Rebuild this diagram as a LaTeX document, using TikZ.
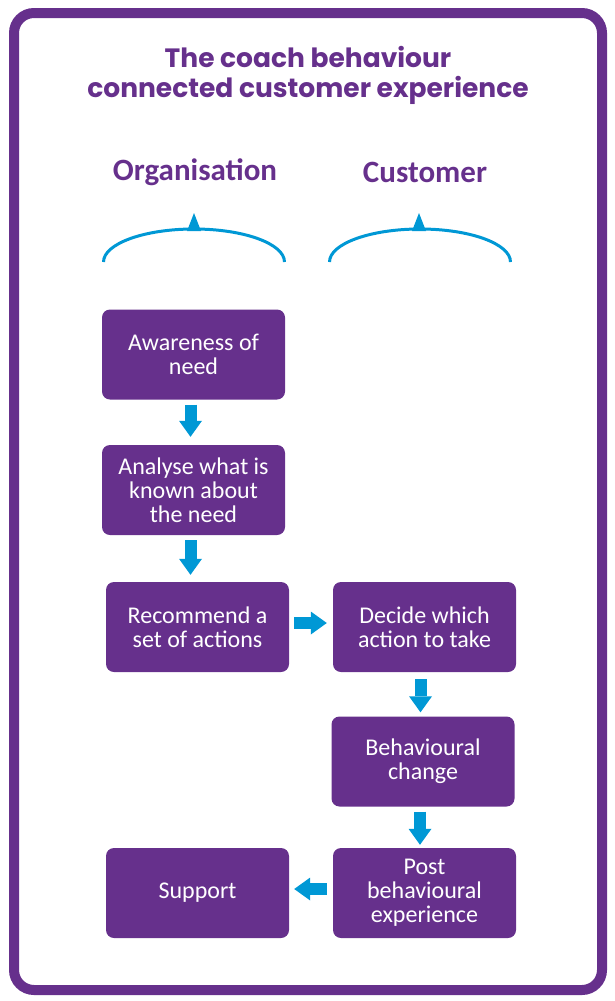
\documentclass[tikz,border=0pt]{standalone}
\usepackage{fontspec}
\setmainfont{Carlito}
\newfontfamily\titlefont{Poppins}
\usetikzlibrary{arrows.meta}
\definecolor{coachpurple}{HTML}{66308C}
\definecolor{coachblue}{HTML}{0098D5}
\tikzset{
  stepbox/.style={fill=coachpurple, rounded corners=8pt, minimum width=183pt,
    minimum height=90pt, inner sep=0pt, align=center,
    text=white, font=\fontsize{24}{24}\selectfont},
  flow/.style={draw=coachblue, line width=12pt,
    -{Triangle[width=23pt,length=16pt,line width=0pt]}},
  heading/.style={text=coachpurple, font=\bfseries\fontsize{31}{34}\selectfont},
  bracket/.style={draw=coachblue, line width=3pt}
}
\begin{document}
\begin{tikzpicture}[x=1pt,y=-1pt]
\useasboundingbox (0,0) rectangle (615,1001);
\draw[coachpurple, line width=10pt, rounded corners=20pt] (14,13) rectangle (602,990);

\node[text=coachpurple, font=\titlefont\bfseries\fontsize{26.5}{30}\selectfont, align=center]
  (title) at (308,75) {The coach behaviour\\connected customer experience};

\node[heading, anchor=base] (org) at (195,180) {Organisation};
\node[heading, anchor=base] (cust) at (425,182) {Customer};

\draw[bracket] (103.5,262) arc[start angle=180, end angle=360, x radius=90.5, y radius=33];
\fill[coachblue] (187,231) -- (194,213) -- (201,231) -- cycle;
\draw[bracket] (329.5,262) arc[start angle=180, end angle=360, x radius=90.5, y radius=33];
\fill[coachblue] (412,231) -- (419,213) -- (426,231) -- cycle;

\node[stepbox] (aware) at (193.5,354.5) {Awareness of\\need};
\node[stepbox] (analyse) at (193.5,490) {Analyse what is\\known about\\the need};
\node[stepbox] (recommend) at (197.5,627) {Recommend a\\set of actions};
\node[stepbox] (decide) at (424.5,627) {Decide which\\action to take};
\node[stepbox] (change) at (423,761.5) {Behavioural\\change};
\node[stepbox] (post) at (424.5,893) {Post\\behavioural\\experience};
\node[stepbox] (support) at (197.5,893) {Support};

\draw[flow, shorten <=5pt, shorten >=8pt] ([xshift=-3pt]aware.south) -- ([xshift=-3pt]analyse.north);
\draw[flow, shorten <=5pt, shorten >=7pt] ([xshift=-3pt]analyse.south) -- ([xshift=-3pt]analyse.south |- recommend.north);
\draw[flow, shorten <=5pt, shorten >=6pt] ([yshift=4pt]recommend.east) -- ([yshift=4pt]decide.west);
\draw[flow, shorten <=7pt, shorten >=4pt] ([xshift=-4pt]decide.south) -- ([xshift=-4pt]decide.south |- change.north);
\draw[flow, shorten <=5pt, shorten >=3pt] ([xshift=-3pt]change.south) -- ([xshift=-3pt]change.south |- post.north);
\draw[flow, shorten <=6pt, shorten >=5pt] ([yshift=4pt]post.west) -- ([yshift=4pt]support.east);
\end{tikzpicture}
\end{document}
